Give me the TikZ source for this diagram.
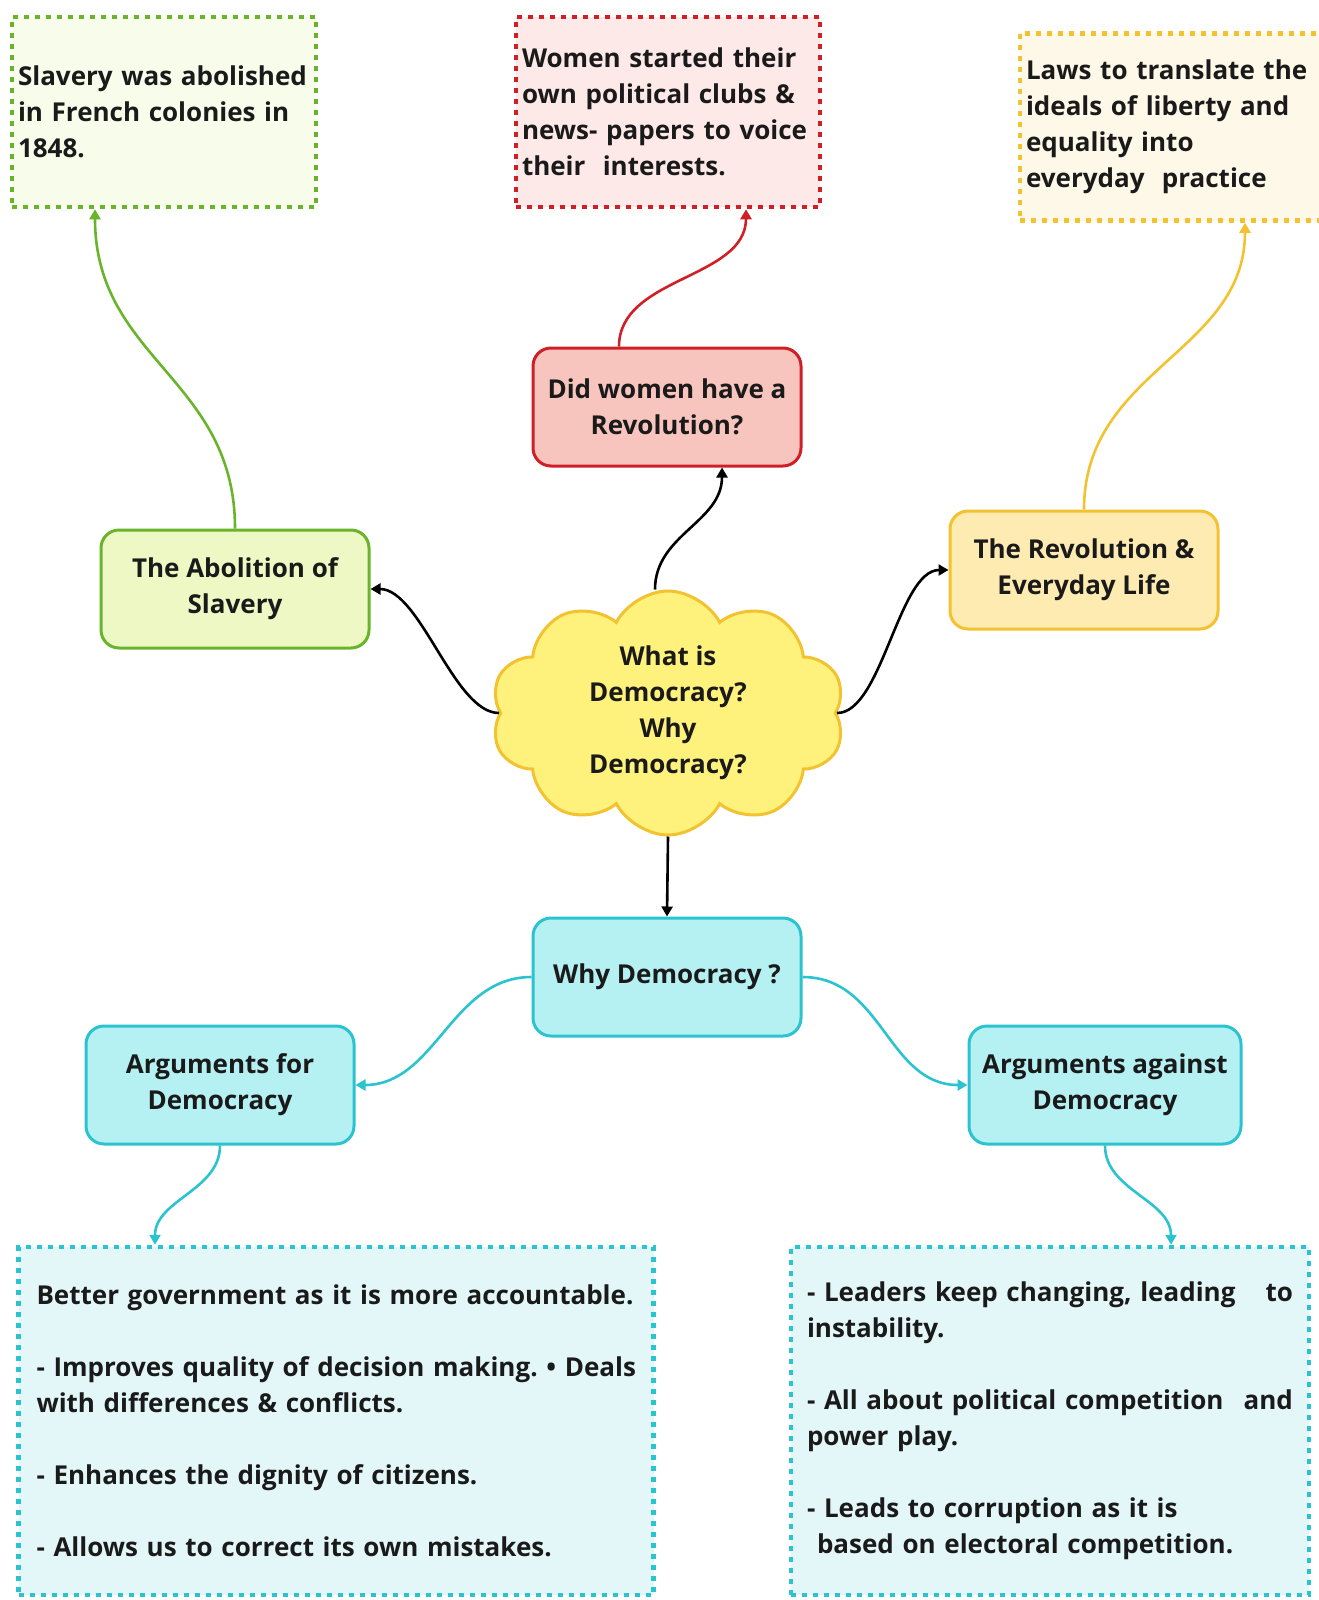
\documentclass[tikz,border=0pt]{standalone}
\usepackage{fontspec}
\setmainfont{Open Sans}
\usetikzlibrary{calc,shapes.symbols,arrows.meta}
\definecolor{greenline}{HTML}{6AB42B}
\definecolor{greenfill}{HTML}{EEF8C4}
\definecolor{greenwash}{HTML}{F8FCEB}
\definecolor{redline}{HTML}{CF2027}
\definecolor{redfill}{HTML}{F8C4BE}
\definecolor{redwash}{HTML}{FDE9E7}
\definecolor{yellowline}{HTML}{F2C230}
\definecolor{yellowfill}{HTML}{FDEBB2}
\definecolor{yellowwash}{HTML}{FEF8E8}
\definecolor{cloudfill}{HTML}{FEF27C}
\definecolor{cyanline}{HTML}{2AC3CF}
\definecolor{cyanfill}{HTML}{B5F0F2}
\definecolor{cyanwash}{HTML}{E3F7F9}
\definecolor{inkcolor}{HTML}{1A1A1A}
\newcommand{\mapfont}{\fontsize{26}{36}\selectfont\bfseries\frenchspacing}
\tikzstyle{topicbox} = [
    rectangle,
    rounded corners=18pt,
    line width=3pt,
    minimum width=268pt,
    minimum height=118pt,
    align=center,
    font=\mapfont,
    text=inkcolor
    ]
\tikzstyle{notebox} = [
    rectangle,
    line width=4.5pt,
    line cap=butt,
    dash pattern=on 5pt off 6pt,
    inner sep=0pt,
    align=left,
    font=\mapfont,
    text=inkcolor
    ]
\tikzstyle{link} = [
    line width=2.6pt,
    -{Triangle[length=10pt,width=11pt]}
    ]

\begin{document}
\begin{tikzpicture}[x=1pt,y=-1pt]
\useasboundingbox (0,0) rectangle (1318,1600);

% centre
\node[cloud, cloud puffs=10, cloud puff arc=125, cloud ignores aspect,
    minimum width=354pt, minimum height=244pt, draw=yellowline, fill=cloudfill,
    line width=3pt, align=center, font=\mapfont, text=inkcolor]
    (cloud) at (668,713) {What is\\Democracy?\\Why\\Democracy?};

% topics
\node[topicbox, draw=redline, fill=redfill] (women) at (667,407)
    {Did women have a\\Revolution?};
\node[topicbox, draw=greenline, fill=greenfill] (abolition) at (235,589)
    {The Abolition of\\Slavery};
\node[topicbox, draw=yellowline, fill=yellowfill] (everyday) at (1084,570)
    {The Revolution \&\\Everyday Life};
\node[topicbox, draw=cyanline, fill=cyanfill] (why) at (667,977)
    {Why Democracy ?};
\node[topicbox, draw=cyanline, fill=cyanfill] (pros) at (220,1085)
    {Arguments for\\Democracy};
\node[topicbox, draw=cyanline, fill=cyanfill, minimum width=272pt] (cons) at (1105,1085)
    {Arguments against\\Democracy};

% notes
\node[notebox, draw=greenline, fill=greenwash, minimum width=304pt, minimum height=190pt,
    text width=292pt] (slavenote) at (164,112)
    {Slavery was abolished\\in French colonies in\\1848.};
\node[notebox, draw=redline, fill=redwash, minimum width=304pt, minimum height=190pt,
    text width=292pt] (womennote) at (668,112)
    {Women started their\\own political clubs \&\\news- papers to voice\\their\ \ interests.};
\node[notebox, draw=yellowline, fill=yellowwash, minimum width=302pt, minimum height=187pt,
    text width=290pt] (lawnote) at (1171,127)
    {Laws to translate the\\ideals of liberty and\\equality into\\everyday\ \ practice};
\node[notebox, draw=cyanline, fill=cyanwash, minimum width=635pt, minimum height=348pt,
    text width=599pt] (pronote) at (336,1421)
    {Better government as it is more accountable.\\[36pt]
     \mbox{- Improves quality of decision making. • Deals}\\with differences \& conflicts.\\[36pt]
     - Enhances the dignity of citizens.\\[36pt]
     - Allows us to correct its own mistakes.};
\node[notebox, draw=cyanline, fill=cyanwash, minimum width=518pt, minimum height=348pt,
    text width=486pt] (connote) at (1050,1421)
    {- Leaders keep changing, leading \hfill to\\instability.\\[36pt]
     - All about political competition \hfill and\\power play.\\[36pt]
     - Leads to corruption as it is\\\hspace*{10pt}based on electoral competition.};

% connectors
\draw[link] ([xshift=-13pt]cloud.north) .. controls +(0,-55) and +(0,55) .. ([xshift=55pt]women.south);
\draw[link] (cloud.west) .. controls +(-45,0) and +(50,0) .. (abolition.east);
\draw[link] (cloud.east) .. controls +(45,0) and +(-50,0) .. (everyday.west);
\draw[link] (cloud.south) -- (why.north);
\draw[link, redline] ([xshift=-48pt]women.north) .. controls +(0,-70) and +(0,70) .. ([xshift=78pt]womennote.south);
\draw[link, greenline] (abolition.north) .. controls +(0,-150) and +(0,150) .. ([xshift=-69pt]slavenote.south);
\draw[link, yellowline] (everyday.north) .. controls +(0,-140) and +(0,130) .. ([xshift=74pt]lawnote.south);
\draw[link, cyanline] (why.west) .. controls +(-80,0) and +(80,0) .. (pros.east);
\draw[link, cyanline] (why.east) .. controls +(80,0) and +(-80,0) .. (cons.west);
\draw[link, cyanline] (pros.south) .. controls +(0,45) and +(0,-45) .. ([xshift=-181pt]pronote.north);
\draw[link, cyanline] (cons.south) .. controls +(0,45) and +(0,-45) .. ([xshift=121pt]connote.north);
\end{tikzpicture}
\end{document}
